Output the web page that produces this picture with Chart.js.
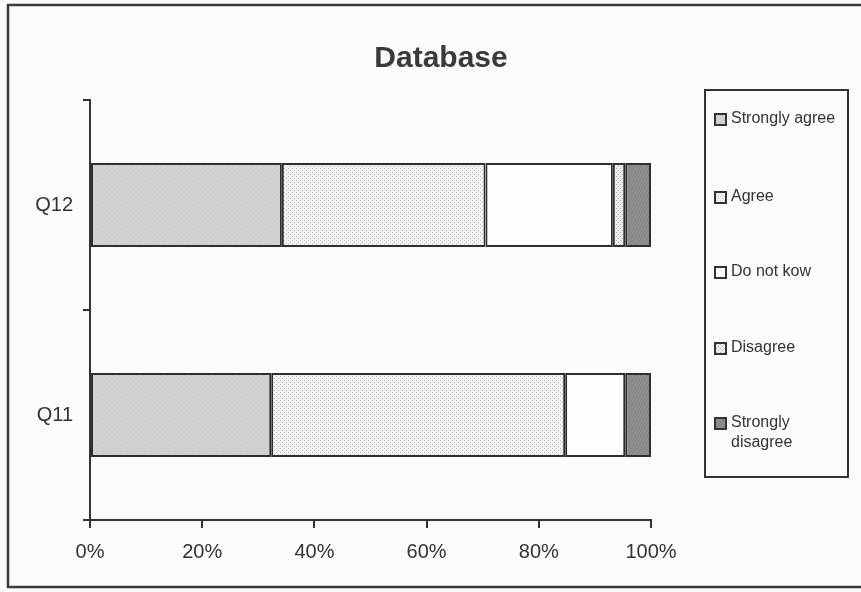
<!DOCTYPE html>
<html>
<head>
<meta charset="utf-8">
<script src="https://cdn.jsdelivr.net/npm/chart.js@4/dist/chart.umd.min.js"></script>
<style>
  html, body { margin: 0; padding: 0; background: #fbfbfb; }
  #wrap { width: 861px; height: 592px; }
</style>
</head>
<body>
<div id="wrap"><canvas id="chart" width="861" height="592"></canvas></div>
<script>
// Survey answers per question, in percent of respondents
const categories = ['Q12', 'Q11'];
const seriesNames = ['Strongly agree', 'Agree', 'Do not kow', 'Disagree', 'Strongly disagree'];
const stronglyAgree = [34.2, 32.3];
const agree = [36.3, 52.4];
const doNotKnow = [22.7, 10.7];
const disagree = [2.2, 0];
const stronglyDisagree = [4.6, 4.6];
const xTickLabels = ['0%', '20%', '40%', '60%', '80%', '100%'];

const INK = '#333333';

// Small tiled textures for the bar fills
function tile(size, paint) {
  const c = document.createElement('canvas');
  c.width = size; c.height = size;
  const g = c.getContext('2d');
  paint(g);
  return g.createPattern(c, 'repeat');
}
function grain(base, alt) {
  return tile(6, g => {
    g.fillStyle = base; g.fillRect(0, 0, 6, 6);
    g.fillStyle = alt;
    [[0,1],[3,0],[5,3],[1,4],[2,2],[4,5]].forEach(([x, y]) => g.fillRect(x, y, 1, 1));
  });
}
function lattice(base, dot) {
  return tile(4, g => {
    g.fillStyle = base; g.fillRect(0, 0, 4, 4);
    g.fillStyle = dot;
    g.fillRect(0, 0, 1, 1); g.fillRect(2, 2, 1, 1);
  });
}

const fills = [
  grain('#d3d3d3', '#c6c6c6'),
  lattice('#f1f1f1', '#c8c8c8'),
  '#fdfdfd',
  lattice('#ececec', '#b3b3b3'),
  grain('#8e8e8e', '#7c7c7c')
];
const seriesValues = [stronglyAgree, agree, doNotKnow, disagree, stronglyDisagree];

// Frame, title and the boxed legend on the right
const decor = {
  id: 'decor',
  beforeDraw(chart) {
    const ctx = chart.ctx;
    ctx.save();
    ctx.fillStyle = '#fbfbfb';
    ctx.fillRect(0, 0, chart.width, chart.height);
    ctx.restore();
  },
  afterDraw(chart) {
    const ctx = chart.ctx;
    ctx.save();
    // outer frame
    ctx.strokeStyle = '#3a3a40';
    ctx.lineWidth = 2.5;
    ctx.beginPath();
    ctx.moveTo(861, 5); ctx.lineTo(8, 5); ctx.lineTo(8, 587); ctx.lineTo(861, 587);
    ctx.stroke();

    // title
    ctx.fillStyle = '#3a3a3a';
    ctx.font = 'bold 30px "Liberation Sans", Arial, sans-serif';
    ctx.textAlign = 'center';
    ctx.textBaseline = 'alphabetic';
    ctx.fillText('Database', 441, 67);

    // legend box
    ctx.lineWidth = 2;
    ctx.strokeStyle = INK;
    ctx.strokeRect(705, 90, 143, 387);
    const ys = [119, 197, 272, 348, 423];
    ctx.font = '16px "Liberation Sans", Arial, sans-serif';
    ctx.textAlign = 'left';
    ctx.textBaseline = 'middle';
    chart.data.datasets.forEach((ds, i) => {
      const y = ys[i];
      ctx.fillStyle = ds.backgroundColor;
      ctx.fillRect(715, y - 5, 11, 11);
      ctx.lineWidth = 2;
      ctx.strokeStyle = INK;
      ctx.strokeRect(715, y - 5, 11, 11);
      ctx.fillStyle = INK;
      const words = ds.label.split(' ');
      let lines = [ds.label];
      if (ctx.measureText(ds.label).width > 112) lines = [words[0], words.slice(1).join(' ')];
      lines.forEach((t, k) => ctx.fillText(t, 731, y + k * 20));
    });
    ctx.restore();
  }
};

new Chart(document.getElementById('chart'), {
  type: 'bar',
  data: {
    labels: categories,
    datasets: seriesNames.map((name, i) => ({
      label: name,
      data: seriesValues[i],
      backgroundColor: fills[i],
      borderColor: '#2e2e2e',
      borderWidth: 2,
      borderSkipped: false,
      barPercentage: 0.4,
      categoryPercentage: 1.0
    }))
  },
  options: {
    indexAxis: 'y',
    responsive: false,
    devicePixelRatio: 1,
    animation: false,
    layout: { padding: { left: 0, right: 210, top: 100, bottom: 0 } },
    plugins: {
      legend: { display: false },
      title: { display: false },
      tooltip: { enabled: false }
    },
    scales: {
      x: {
        stacked: true,
        min: 0,
        max: 100,
        afterFit(scale) { scale.height = 72; },
        afterBuildTicks(scale) { scale.ticks = xTickLabels.map((_, i) => ({ value: i * 20 })); },
        ticks: {
          callback: (v, i) => xTickLabels[i],
          color: INK,
          padding: 12,
          maxRotation: 0,
          font: { family: '"Liberation Sans", Arial, sans-serif', size: 20 }
        },
        grid: { drawOnChartArea: false, drawTicks: true, tickLength: 8, color: INK, lineWidth: 2 },
        border: { display: true, color: INK, width: 2 }
      },
      y: {
        stacked: true,
        afterFit(scale) { scale.width = 90; },
        ticks: {
          color: INK,
          padding: 10,
          font: { family: '"Liberation Sans", Arial, sans-serif', size: 20 }
        },
        grid: { drawOnChartArea: false, drawTicks: true, tickLength: 7, color: INK, lineWidth: 2, offset: true },
        border: { display: true, color: INK, width: 2 }
      }
    }
  },
  plugins: [decor]
});
</script>
</body>
</html>
